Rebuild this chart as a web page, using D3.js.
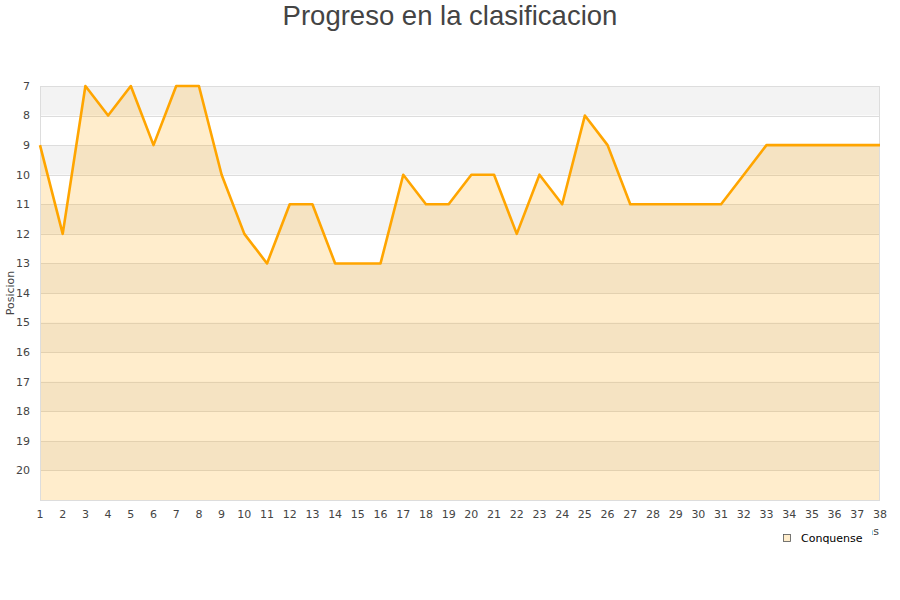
<!DOCTYPE html>
<html><head><meta charset="utf-8">
<script src="https://cdn.jsdelivr.net/npm/d3@7"></script>
<style>body{margin:0;background:#fff;} svg{display:block;}</style>
</head><body>
<svg id="c" width="900" height="600"></svg>
<script>
const jornadas = d3.range(1, 39);
const posiciones = [9,12,7,8,7,9,7,7,10,12,13,11,11,13,13,13,10,11,11,10,10,12,10,11,8,9,11,11,11,11,11,10,9,9,9,9,9,9];
const yTicks = [7,8,9,10,11,12,13,14,15,16,17,18,19,20];
const title = "Progreso en la clasificacion";
const seriesName = "Conquense";

const svg = d3.select("#c");
const m = {l:40, r:880, t:86, b:500};
const x = d3.scaleLinear().domain([1,38]).range([m.l, m.r]);
const y = d3.scaleLinear().domain([7,21]).range([m.t, m.b]);

// bands
const bands = d3.range(7, 21);
svg.append("g").selectAll("rect").data(bands).join("rect")
  .attr("x", m.l).attr("width", m.r - m.l)
  .attr("y", d => y(d)).attr("height", d => y(d+1) - y(d))
  .attr("fill", (d,i) => i % 2 === 0 ? "#f3f3f3" : "#ffffff");

// gridlines
svg.append("g").selectAll("line").data(d3.range(7, 22)).join("line")
  .attr("x1", m.l).attr("x2", m.r)
  .attr("y1", d => Math.round(y(d)) + 0.5).attr("y2", d => Math.round(y(d)) + 0.5)
  .attr("stroke", "#dddddd").attr("stroke-width", 1);

// area
const data = jornadas.map((j,i) => ({j, p: posiciones[i]}));
svg.append("path").datum(data)
  .attr("d", d3.area().x(d => x(d.j)).y0(m.b).y1(d => y(d.p)))
  .attr("fill", "#ffa500").attr("fill-opacity", 0.2);

// border
svg.append("rect").attr("x", m.l + 0.5).attr("y", m.t + 0.5)
  .attr("width", m.r - m.l - 1).attr("height", m.b - m.t)
  .attr("fill", "none").attr("stroke", "#dddddd");

// line
svg.append("path").datum(data)
  .attr("d", d3.line().x(d => x(d.j)).y(d => y(d.p)))
  .attr("fill", "none").attr("stroke", "#ffa500").attr("stroke-width", 2.6)
  .attr("stroke-linejoin", "round");

// y ticks
svg.append("g").selectAll("text").data(yTicks).join("text")
  .attr("x", 30).attr("y", d => y(d)).attr("dy", "0.35em")
  .attr("text-anchor", "end")
  .attr("font-family", "DejaVu Sans").attr("font-size", 11).attr("fill", "#444")
  .text(d => d);

// x ticks
svg.append("g").selectAll("text").data(jornadas).join("text")
  .attr("x", d => x(d)).attr("y", 518)
  .attr("text-anchor", "middle")
  .attr("font-family", "DejaVu Sans").attr("font-size", 11).attr("fill", "#444")
  .text(d => d);

// y axis title
svg.append("text").attr("transform", "translate(14,293) rotate(-90)")
  .attr("text-anchor", "middle")
  .attr("font-family", "DejaVu Sans").attr("font-size", 11).attr("fill", "#444")
  .text("Posicion");

// x axis title (mostly hidden behind the legend, as in the reference)
svg.append("clipPath").attr("id", "xtclip").append("rect")
  .attr("x", 872).attr("y", 520).attr("width", 20).attr("height", 20);
svg.append("text").attr("x", 879).attr("y", 535).attr("text-anchor", "end")
  .attr("clip-path", "url(#xtclip)")
  .attr("font-family", "DejaVu Sans").attr("font-size", 11).attr("fill", "#444")
  .text("Jornadas");

// legend
const lg = svg.append("g");
lg.append("rect").attr("x", 783.5).attr("y", 534.5).attr("width", 7).attr("height", 7)
  .attr("fill", "#ffedcc").attr("stroke", "#555").attr("stroke-width", 0.8);
lg.append("text").attr("x", 801).attr("y", 542)
  .attr("font-family", "DejaVu Sans").attr("font-size", 11).attr("fill", "#000")
  .text(seriesName);

// title
svg.append("text").attr("x", 450).attr("y", 25).attr("text-anchor", "middle")
  .attr("font-family", "Liberation Sans, Arial, sans-serif").attr("font-size", 27.5).attr("fill", "#444")
  .text(title);
</script>
</body></html>
